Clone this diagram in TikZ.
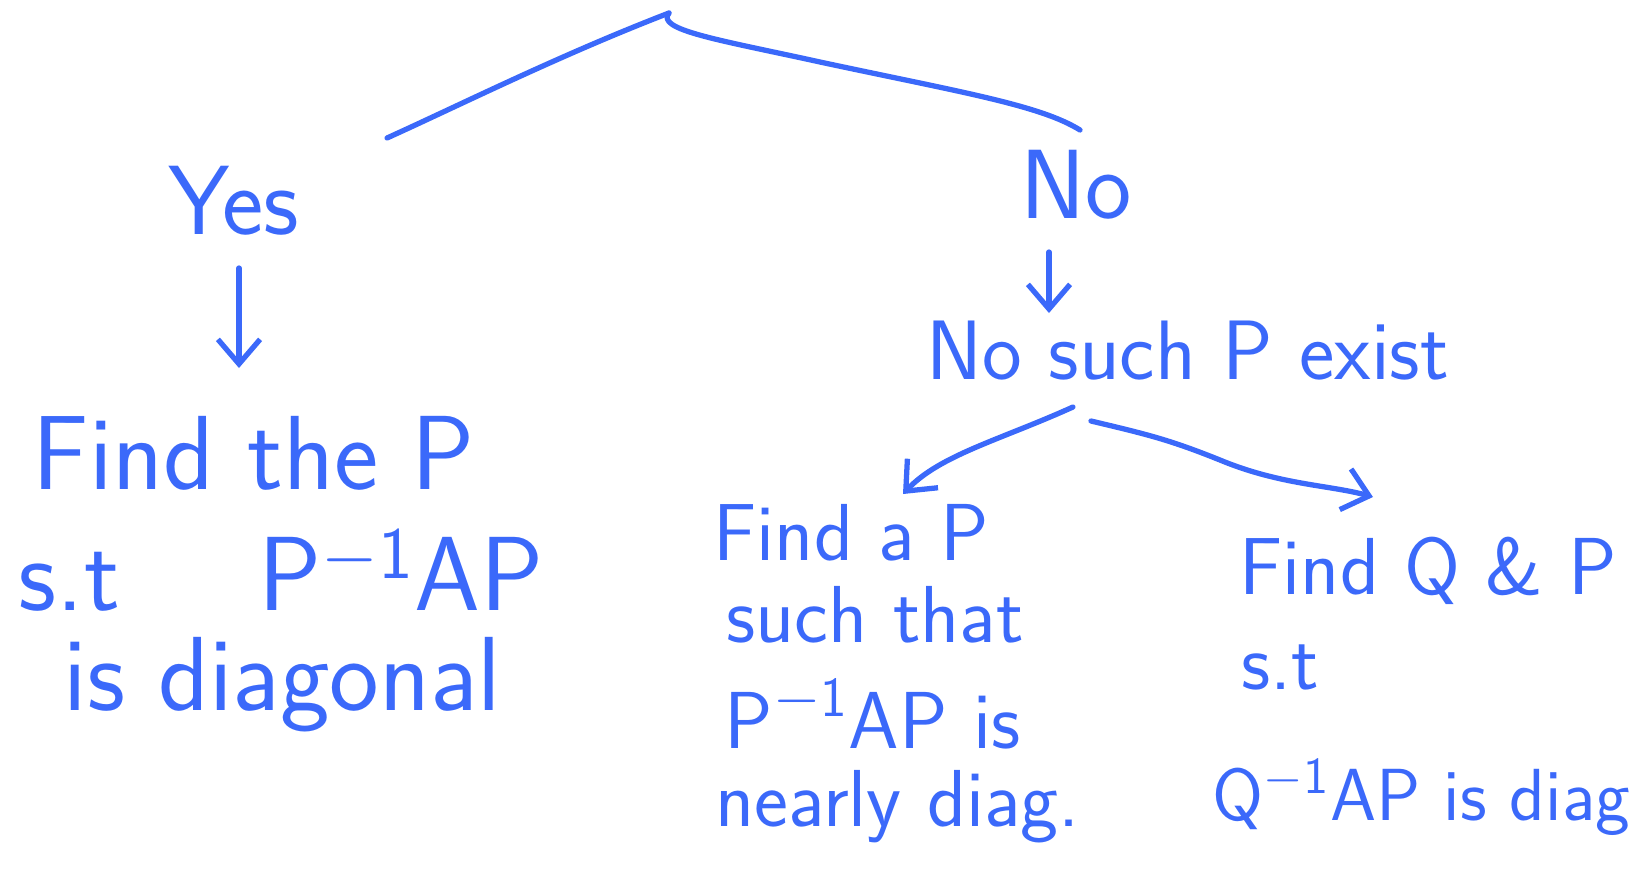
\documentclass[tikz,border=0pt]{standalone}
\usetikzlibrary{positioning,arrows.meta}
\definecolor{ink}{RGB}{59,105,250}
\newcommand{\inv}{\textsuperscript{$-$1}}
\tikzset{
  hand/.style={ink, line width=1.5pt, line cap=round, line join=round},
  pointer/.style={hand, -{Straight Barb[length=7pt,width=12pt]}},
  word/.style={ink, inner sep=0pt, anchor=base west, font=\sffamily\fontsize{#1}{#1}\selectfont},
  word/.default=24,
}
\begin{document}
\begin{tikzpicture}
  \useasboundingbox (0,0) rectangle (16.5,-8.74);
  % top fork
  \coordinate (apex) at (6.69,-0.13);
  \coordinate (forkL) at (3.87,-1.38);
  \coordinate (forkR) at (10.80,-1.30);
  % answers
  \node[word=28] (yes) at (1.68,-2.34) {Yes};
  \node[word=28] (no)  at (10.20,-2.18) {No};
  % yes branch
  \node[word=30] (findP)  at (0.32,-4.89) {Find the P};
  \node[word=30] (stP)    at (0.18,-6.10) {s.t \quad P\inv AP};
  \node[word=30] (isdiag) at (0.63,-7.10) {is diagonal};
  % no branch
  \node[word=24] (nosuch) at (9.26,-3.79) {No such P exist};
  \node[word=23] (findaP) at (7.13,-5.60) {Find a P};
  \node[word=23] (such)   at (7.26,-6.42) {such that};
  \node[word=23] (pap)    at (7.24,-7.48) {P\inv AP is};
  \node[word=23] (nearly) at (7.15,-8.26) {nearly diag.};
  \node[word=23] (findQP) at (12.39,-5.94) {Find Q \& P};
  \node[word=23] (stQ)    at (12.41,-6.89) {s.t};
  \node[word=21] (qap)    at (12.12,-8.20) {Q\inv AP is diag};
  % arrow ends
  \coordinate (yesA) at (2.39,-2.68);
  \coordinate (yesB) at (2.39,-3.68);
  \coordinate (noA) at (10.49,-2.52);
  \coordinate (noB) at (10.49,-3.13);
  \coordinate (splitL) at (10.73,-4.07);
  \coordinate (splitR) at (10.91,-4.21);
  \coordinate (toFindaP) at (9.03,-4.94);
  \coordinate (toFindQP) at (13.73,-4.97);

  % connect
  \draw[hand] (apex) .. controls (5.6,-0.55) and (4.6,-1.05) .. (forkL);
  \draw[hand] (apex) .. controls (6.55,-0.30) and (7.2,-0.40) .. (8.2,-0.62)
                     .. controls (9.6,-0.92) and (10.4,-1.05) .. (forkR);
  \draw[pointer] (yesA) -- (yesB);
  \draw[pointer] (noA) -- (noB);
  \draw[pointer] (splitL) .. controls (10.0,-4.40) and (9.4,-4.55) .. (toFindaP);
  \draw[pointer] (splitR) .. controls (11.5,-4.35) and (11.7,-4.40) .. (12.2,-4.60)
                 .. controls (12.8,-4.85) and (13.3,-4.85) .. (toFindQP);
\end{tikzpicture}
\end{document}
